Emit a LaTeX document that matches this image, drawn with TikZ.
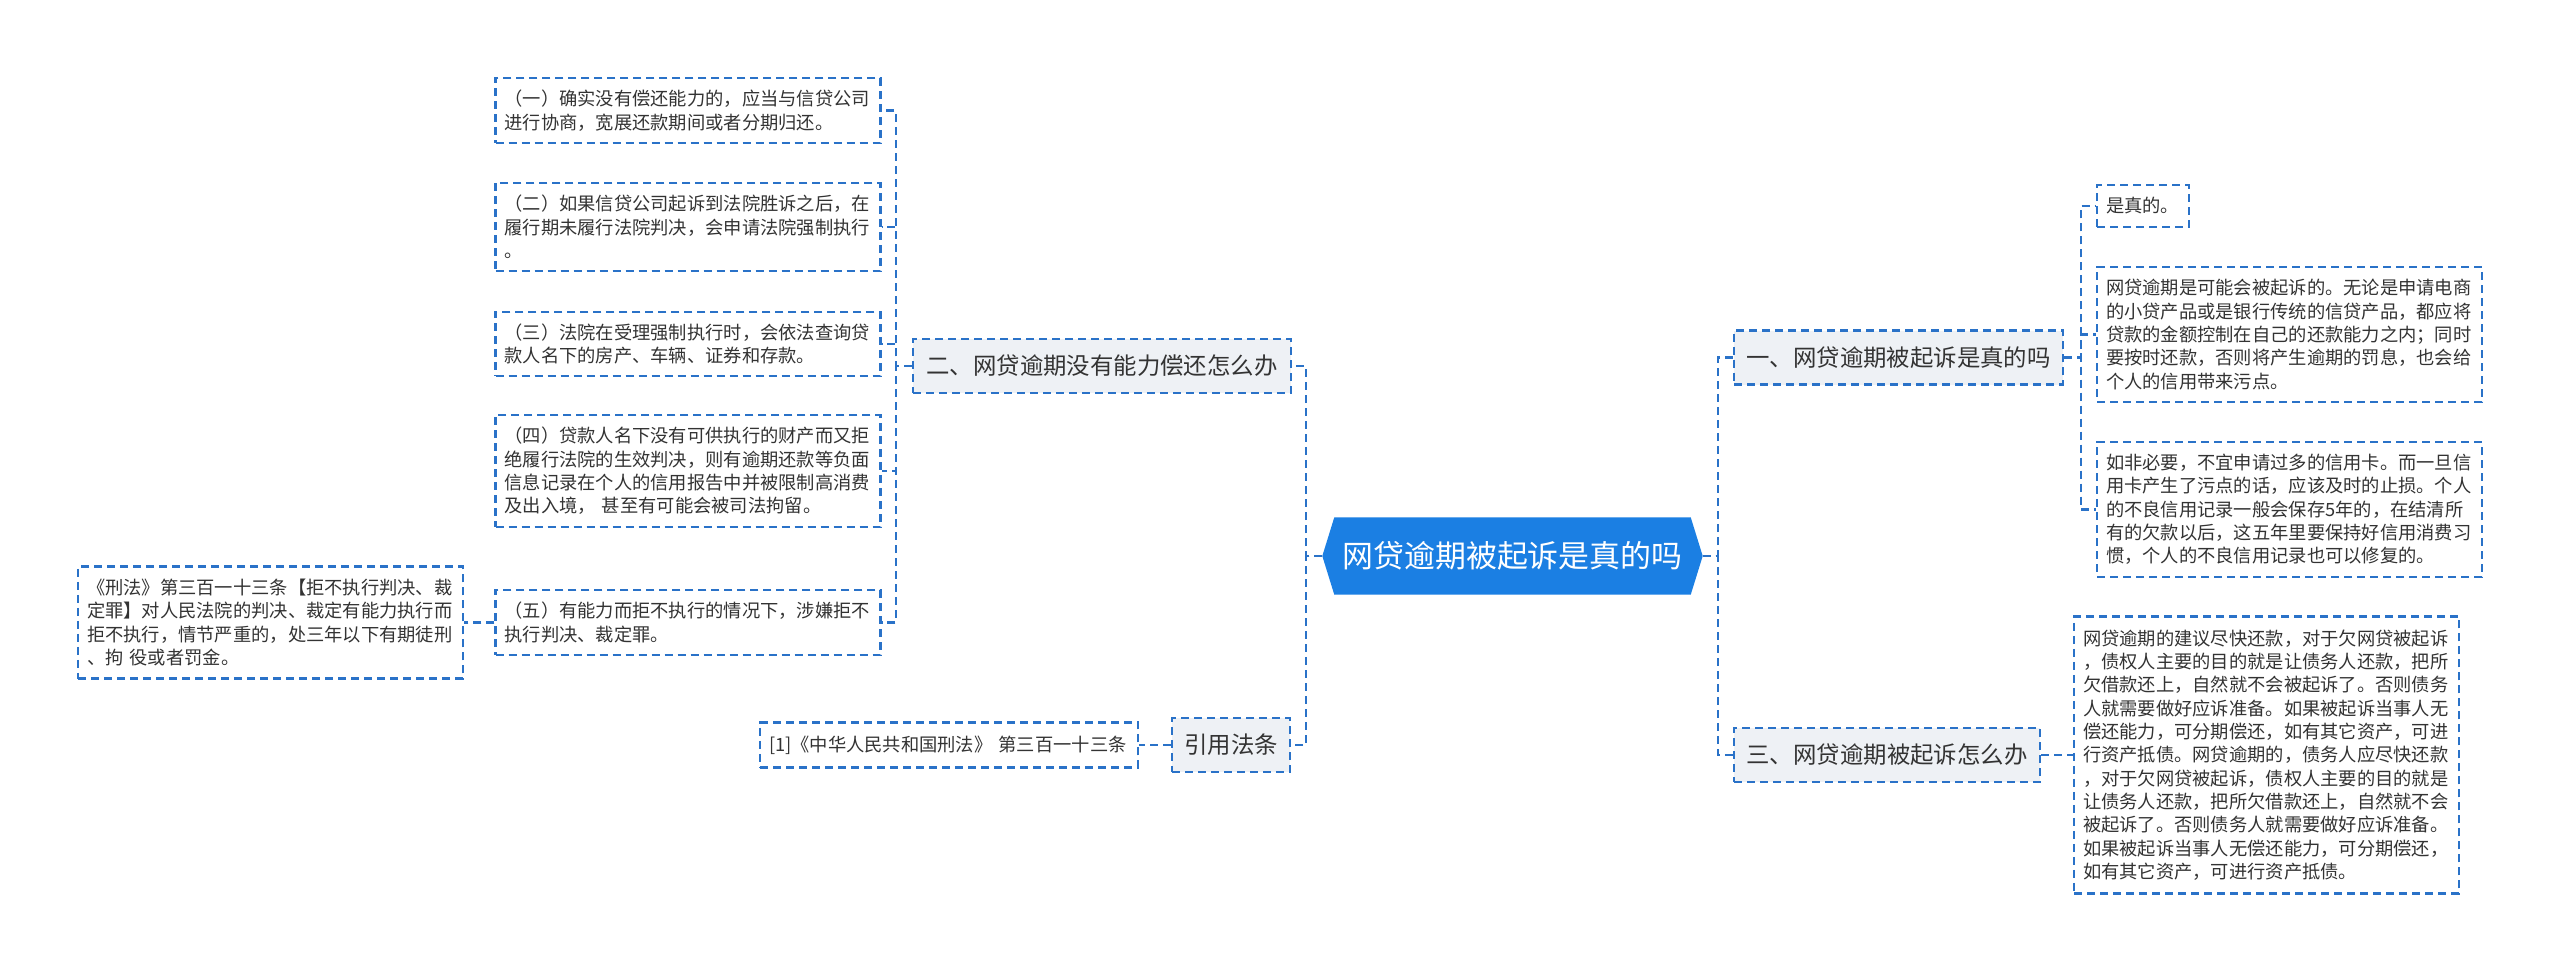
\documentclass[tikz,border=0pt]{standalone}
\usepackage{fontspec}
\newfontfamily\cjkfont{Noto Sans CJK SC}
\usetikzlibrary{backgrounds}
\usepackage{xcolor}
\definecolor{rootblue}{HTML}{1B7FE3}
\definecolor{linkblue}{HTML}{2A72C8}
\definecolor{branchgray}{HTML}{EEF1F5}
\definecolor{textgray}{HTML}{333333}

\begin{document}
\begin{tikzpicture}[
  link/.style={linkblue, line width=0.6pt, dash pattern=on 2.3pt off 1.4pt},
  leaf/.style={draw=linkblue, line width=0.6pt, dash pattern=on 2.3pt off 1.4pt,
    fill=white, text=textgray, font=\cjkfont\fontsize{5.2}{6.63}\selectfont,
    text width=3.67cm, align=left, inner xsep=0.09cm, inner ysep=0.05cm},
  branch/.style={draw=linkblue, line width=0.6pt, dash pattern=on 2.3pt off 1.4pt,
    fill=branchgray, text=textgray, font=\cjkfont\fontsize{6.66}{8}\selectfont,
    minimum height=0.54cm, inner sep=0pt},
  rootbox/.style={text=white, font=\cjkfont\fontsize{8.8}{10}\selectfont,
    minimum width=3.55cm, minimum height=0.76cm, inner sep=0pt}
]
  % Root
  \node (root) [rootbox] at (15.125,-5.56) {网贷逾期被起诉是真的吗};
  \coordinate (rootL) at ([xshift=-0.12cm]root.west);
  \coordinate (rootR) at ([xshift=0.12cm]root.east);
  \begin{scope}[on background layer]
    \path[use as bounding box, fill=white] (0,0) rectangle (25.6,-9.72);
    \fill[rootblue] (rootL) -- (root.north west) -- (root.north east) -- (rootR)
      -- (root.south east) -- (root.south west) -- cycle;
  \end{scope}
  % Branches
  \node (b2) [branch, minimum width=3.78cm] at (11.02,-3.66) {二、网贷逾期没有能力偿还怎么办};
  \node (cite) [branch, minimum width=1.18cm] at (12.31,-7.45) {引用法条};
  \node (b1) [branch, minimum width=3.29cm] at (18.985,-3.575) {一、网贷逾期被起诉是真的吗};
  \node (b3) [branch, minimum width=3.06cm] at (18.87,-7.55) {三、网贷逾期被起诉怎么办};
  % Left leaves
  \node (l1) [leaf, minimum height=0.65cm] at (6.88,-1.105)
    {（一）确实没有偿还能力的，应当与信贷公司\\进行协商，宽展还款期间或者分期归还。};
  \node (l2) [leaf, minimum height=0.88cm] at (6.88,-2.27)
    {（二）如果信贷公司起诉到法院胜诉之后，在\\履行期未履行法院判决，会申请法院强制执行\\。};
  \node (l3) [leaf, minimum height=0.64cm] at (6.88,-3.44)
    {（三）法院在受理强制执行时，会依法查询贷\\款人名下的房产、车辆、证券和存款。};
  \node (l4) [leaf, minimum height=1.12cm] at (6.88,-4.71)
    {（四）贷款人名下没有可供执行的财产而又拒\\绝履行法院的生效判决，则有逾期还款等负面\\信息记录在个人的信用报告中并被限制高消费\\及出入境， 甚至有可能会被司法拘留。};
  \node (l5) [leaf, minimum height=0.65cm] at (6.88,-6.225)
    {（五）有能力而拒不执行的情况下，涉嫌拒不\\执行判决、裁定罪。};
  \node (law) [leaf, minimum height=1.12cm] at (2.705,-6.225)
    {《刑法》第三百一十三条【拒不执行判决、裁\\定罪】对人民法院的判决、裁定有能力执行而\\拒不执行，情节严重的，处三年以下有期徒刑\\、拘 役或者罚金。};
  \node (c1) [leaf, text width=3.6cm, minimum height=0.45cm] at (9.49,-7.45)
    {[1]《中华人民共和国刑法》 第三百一十三条};
  % Right leaves
  \node (r1) [leaf, text width=0.74cm, minimum height=0.42cm] at (21.43,-2.06) {是真的。};
  \node (r2) [leaf, minimum height=1.35cm] at (22.895,-3.345)
    {网贷逾期是可能会被起诉的。无论是申请电商\\的小贷产品或是银行传统的信贷产品，都应将\\贷款的金额控制在自己的还款能力之内；同时\\要按时还款，否则将产生逾期的罚息，也会给\\个人的信用带来污点。};
  \node (r3) [leaf, minimum height=1.35cm] at (22.895,-5.095)
    {如非必要，不宜申请过多的信用卡。而一旦信\\用卡产生了污点的话，应该及时的止损。个人\\的不良信用记录一般会保存5年的，在结清所\\有的欠款以后，这五年里要保持好信用消费习\\惯，个人的不良信用记录也可以修复的。};
  \node (r4) [leaf, minimum height=2.77cm] at (22.665,-7.55)
    {网贷逾期的建议尽快还款，对于欠网贷被起诉\\，债权人主要的目的就是让债务人还款，把所\\欠借款还上，自然就不会被起诉了。否则债务\\人就需要做好应诉准备。如果被起诉当事人无\\偿还能力，可分期偿还，如有其它资产，可进\\行资产抵债。网贷逾期的，债务人应尽快还款\\，对于欠网贷被起诉，债权人主要的目的就是\\让债务人还款，把所欠借款还上，自然就不会\\被起诉了。否则债务人就需要做好应诉准备。\\如果被起诉当事人无偿还能力，可分期偿还，\\如有其它资产，可进行资产抵债。};
  % Connectors
  \draw[link] (rootL) -- ++(-0.16,0) |- (b2.east);
  \draw[link] (rootL) -- ++(-0.16,0) |- (cite.east);
  \draw[link] (rootR) -- ++(0.15,0) |- (b1.west);
  \draw[link] (rootR) -- ++(0.15,0) |- (b3.west);
  \foreach \n in {l1,l2,l3,l4,l5}
    \draw[link] (b2.west) -- ++(-0.16,0) |- (\n.east);
  \foreach \n in {r1,r2,r3}
    \draw[link] (b1.east) -- ++(0.17,0) |- (\n.west);
  \draw[link] (b3.east) -- (r4.west);
  \draw[link] (l5.west) -- (law.east);
  \draw[link] (cite.west) -- (c1.east);
\end{tikzpicture}
\end{document}
